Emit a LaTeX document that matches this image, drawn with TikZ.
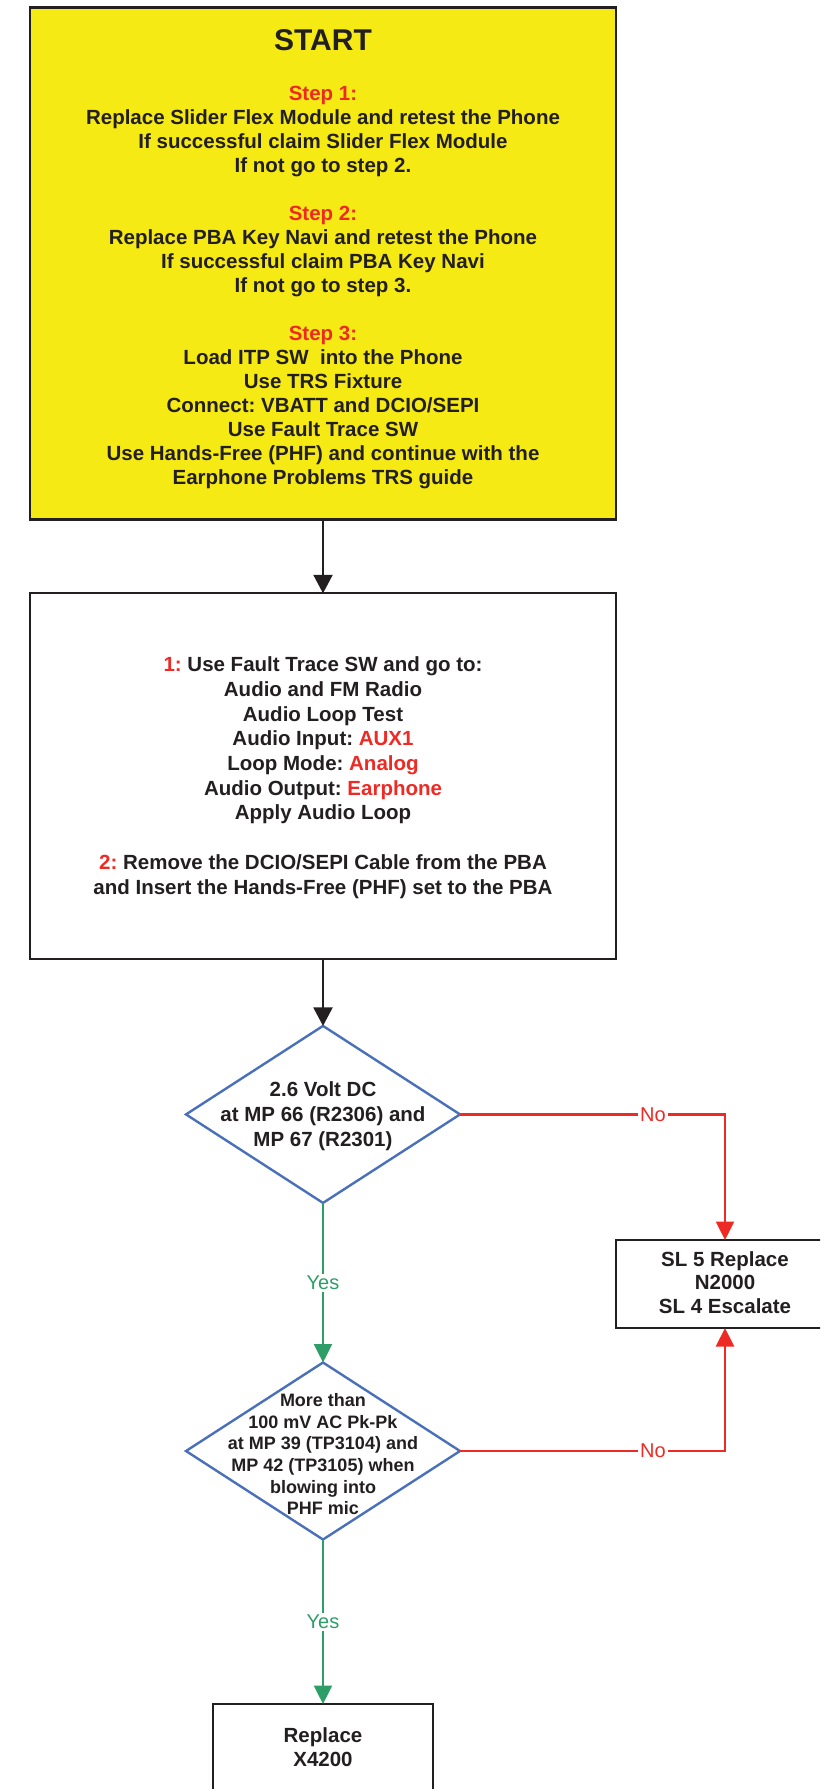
\documentclass[tikz,border=0pt]{standalone}
\usepackage{fontspec}
\setmainfont{Liberation Sans}
\usetikzlibrary{shapes.geometric,arrows.meta}
\frenchspacing

\definecolor{boxyellow}{HTML}{F5EA14}
\definecolor{inkgray}{HTML}{231F20}
\definecolor{hotred}{HTML}{EE2A24}
\definecolor{yesgreen}{HTML}{2E9E68}
\definecolor{diablue}{HTML}{4A70BA}

\begin{document}
\begin{tikzpicture}[x=1pt,y=-1pt,
  every node/.style={inner sep=0pt, outer sep=0pt, text=inkgray},
  panel/.style={draw=inkgray, line width=2.2pt, rectangle},
  decision/.style={draw=diablue, line width=2.4pt, diamond,
    minimum width=274pt, minimum height=177pt},
  bodytext/.style={font=\fontsize{20.5}{24}\selectfont\bfseries,
    align=center, anchor=north},
  smalltext/.style={font=\fontsize{18}{21.7}\selectfont\bfseries,
    align=center, anchor=north},
  flow/.style={draw=inkgray, line width=2.2pt,
    -{Triangle[length=18.5pt,width=19pt]}},
  yesflow/.style={draw=yesgreen, line width=2.4pt,
    -{Triangle[length=18.5pt,width=18pt]}},
  noflow/.style={draw=hotred, line width=2.4pt,
    -{Triangle[length=18.5pt,width=18pt]}},
  yeslabel/.style={fill=white, inner sep=2pt, text=yesgreen,
    font=\fontsize{20}{24}\selectfont},
  nolabel/.style={fill=white, inner sep=2pt, text=hotred,
    font=\fontsize{20}{24}\selectfont},
]
\useasboundingbox (0,0) rectangle (820,1789);
\clip (0,0) rectangle (820,1789);

% start panel
\node[panel, fill=boxyellow, minimum width=586pt, minimum height=512pt]
  (start) at (323,263.5) {};
\node[font=\fontsize{30}{36}\selectfont\bfseries, anchor=base]
  (starttitle) at (323,50.7) {START};
\node[bodytext] (startsteps) at (323,83.7) {%
  \rule{0pt}{17pt}{\color{hotred}Step 1:}\\
  Replace Slider Flex Module and retest the Phone\\
  If successful claim Slider Flex Module\\
  If not go to step 2.\\[24pt]
  {\color{hotred}Step 2:}\\
  Replace PBA Key Navi and retest the Phone\\
  If successful claim PBA Key Navi\\
  If not go to step 3.\\[24pt]
  {\color{hotred}Step 3:}\\
  Load ITP SW\ \ into the Phone\\
  Use TRS Fixture\\
  Connect: VBATT and DCIO/SEPI\\
  Use Fault Trace SW\\
  Use Hands-Free (PHF) and continue with the\\
  Earphone Problems TRS guide};

% fault trace setup panel
\node[panel, minimum width=586pt, minimum height=366pt]
  (setup) at (323,776.3) {};
\node[bodytext, font=\fontsize{20.5}{24.7}\selectfont\bfseries]
  (setuptext) at (323,654.7) {%
  \rule{0pt}{17pt}{\color{hotred}1:} Use Fault Trace SW and go to:\\
  Audio and FM Radio\\
  Audio Loop Test\\
  Audio Input: {\color{hotred}AUX1}\\
  Loop Mode: {\color{hotred}Analog}\\
  Audio Output: {\color{hotred}Earphone}\\
  Apply Audio Loop\\[24.7pt]
  {\color{hotred}2:} Remove the DCIO/SEPI Cable from the PBA\\
  and Insert the Hands-Free (PHF) set to the PBA};

% first check
\node[decision] (d1) at (323,1114.4) {};
\node[bodytext, font=\fontsize{20.5}{25}\selectfont\bfseries]
  (d1text) at (323,1079) {%
  \rule{0pt}{17pt}2.6 Volt DC\\
  at MP 66 (R2306) and\\
  MP 67 (R2301)};

% second check
\node[decision] (d2) at (323,1451) {};
\node[smalltext] (d2text) at (323,1391.4) {%
  \rule{0pt}{15pt}More than\\
  100 mV AC Pk-Pk\\
  at MP 39 (TP3104) and\\
  MP 42 (TP3105) when\\
  blowing into\\
  PHF mic};

% outcomes
\node[panel, minimum width=218pt, minimum height=88pt]
  (sl) at (725,1284) {};
\node[bodytext, font=\fontsize{20.5}{23.5}\selectfont\bfseries]
  (sltext) at (725,1249) {%
  \rule{0pt}{17pt}SL 5 Replace\\
  N2000\\
  SL 4 Escalate};

\node[panel, minimum width=219.6pt, minimum height=92pt]
  (fix) at (323,1750) {};
\node[bodytext] (fixtext) at (323,1725.7) {%
  \rule{0pt}{17pt}Replace\\
  X4200};

% connectors
\draw[flow] (start.south) -- (setup.north);
\draw[flow] (setup.south) -- (d1.north);
\draw[yesflow] (d1.south) -- node[yeslabel] {Yes} (d2.north);
\draw[yesflow] (d2.south) -- node[yeslabel] {Yes} (fix.north);
\draw[noflow] (d1.east) -| node[nolabel, pos=0.364] {No} (sl.north);
\draw[noflow] (d2.east) -| node[nolabel, pos=0.364] {No} (sl.south);
\end{tikzpicture}
\end{document}
